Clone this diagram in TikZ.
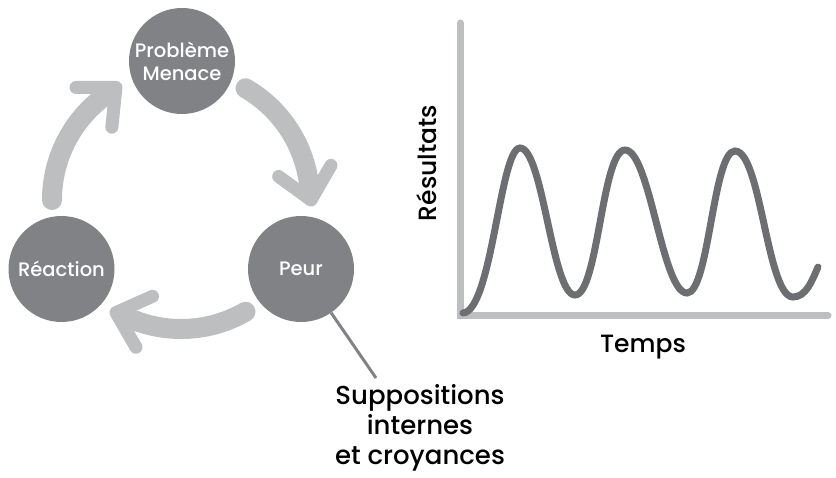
\documentclass[tikz,border=0pt]{standalone}
\usepackage{fontspec}
\setmainfont{Poppins}[UprightFont=* Medium]
\usetikzlibrary{calc}
\definecolor{stepgray}{HTML}{808285}
\definecolor{arcgray}{HTML}{BCBEC0}
\definecolor{curvegray}{HTML}{6D6E71}

\begin{document}
\begin{tikzpicture}[x=1pt, y=1pt, stage/.style={circle, fill=stepgray, minimum size=106pt, inner sep=0pt, text=white, align=center, font=\fontsize{19.5}{23}\selectfont}, bigtext/.style={font=\fontsize{25}{31}\selectfont, align=center}, cyclearc/.style={arcgray, line width=20pt, line cap=round}, cyclehead/.style={arcgray, line width=13pt, line cap=round, line join=round}, axis/.style={arcgray, line width=7pt, line cap=round}, trend/.style={curvegray, line width=7pt, line cap=round}]
    \useasboundingbox (0,0) rectangle (836,477);

    % cycle
    \node[stage] (menace) at (182,416) {Problème\\Menace};
    \node[stage] (reaction) at (61.5,208) {Réaction};
    \node[stage] (peur) at (301,208) {Peur};
    \coordinate (cyc) at (181,277);

    \foreach \a in {60,-60,180} {
        \draw[cyclearc] ($(cyc)+(\a:129)$) arc[start angle=\a, end angle=\a-54, radius=129];
        \draw[cyclehead] ($(cyc)+(\a-60:130)$) ++(\a+84:40) -- ++(\a+264:40) -- ++(\a:40);
    }

    \coordinate (tail) at (376,99);
    \draw[stepgray, line width=3pt] (peur) -- (tail);
    \node[bigtext, font=\fontsize{26}{30}\selectfont] (beliefs) at (420,49) {Suppositions\\internes\\et croyances};

    % graph
    \coordinate (origin) at (460,161);
    \coordinate (ytop) at (460,454);
    \coordinate (xend) at (828,161);
    \draw[axis] (ytop) -- (origin) -- (xend);

    \draw[trend] (463,164) .. controls (492,166) and (500,329) .. (520,329)
        .. controls (543,329) and (552,182) .. (575,182)
        .. controls (598,182) and (602,327) .. (625,327)
        .. controls (650,327) and (662,184) .. (687,184)
        .. controls (709,184) and (713,326) .. (735,326)
        .. controls (761,326) and (767,180) .. (793,180)
        .. controls (806,180) and (812,196) .. (818,210);

    \node[bigtext] (temps) at (643,130) {Temps};
    \node[bigtext, rotate=90] (resultats) at (427,314) {Résultats};
\end{tikzpicture}
\end{document}
